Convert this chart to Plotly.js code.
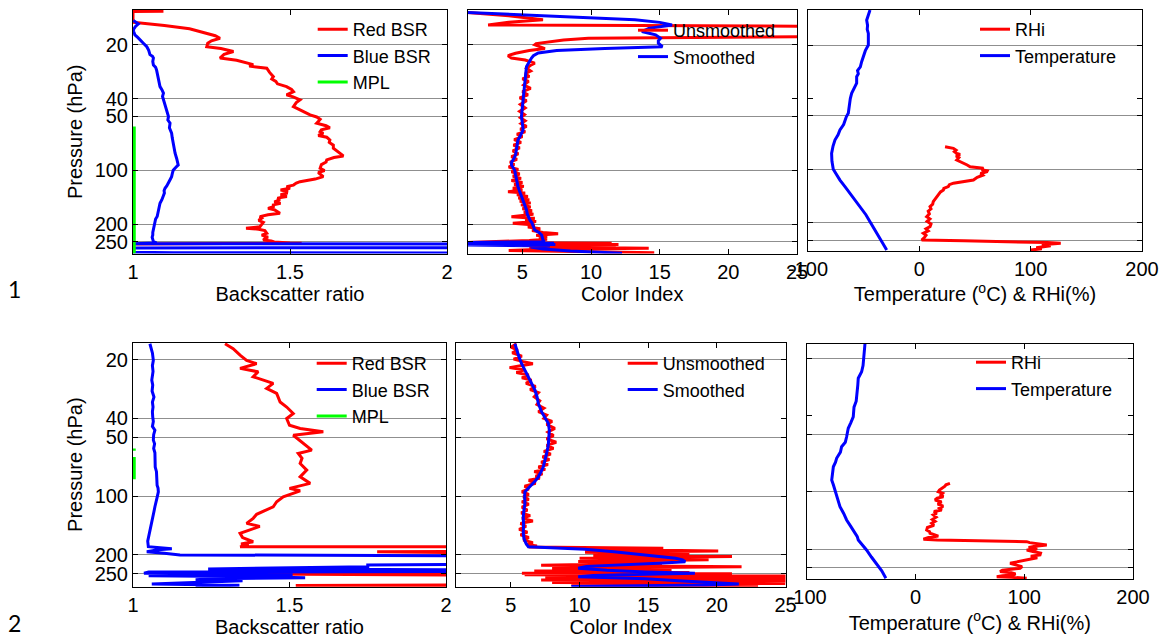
<!DOCTYPE html>
<html><head><meta charset="utf-8">
<script src="https://cdn.plot.ly/plotly-3.0.1.min.js"></script>
<style>html,body{margin:0;padding:0;background:#fff}#chart{width:1162px;height:639px}</style>
</head><body><div id="chart"></div><script>
// ---------- Row 1, panel 1: backscatter ratio ----------
const r1RedP = [13.0,13.05,15.0,15.6,16.3,17.2,17.8,18.4,19.0,19.6,20.5,21.0,21.8,22.6,23.7,24.4,25.3,25.8,26.3,27.0,28.5,30.1,31.0,32.0,33.0,34.2,35.5,36.5,38.0,39.0,40.5,42.0,44.2,46.0,47.5,49.2,50.5,52.0,53.5,54.7,56.5,58.0,59.5,61.0,62.2,64.0,65.5,67.8,70.0,72.5,75.4,78.0,80.0,83.2,85.0,87.6,90.0,93.0,97.5,100.5,103.0,106.0,108.6,112.0,115.8,118.0,121.0,123.4,126.0,129.0,131.0,134.4,137.0,140.0,143.0,146.4,150.0,153.0,156.0,159.6,163.0,166.0,170.0,173.8,177.0,181.4,185.0,190.0,195.0,200.0,206.4,210.6,213.0,217.0,224.6,230.0,236.0,240.0,244.7,248.0,251.0,254.0,255.4,256.0,256.5,257.5];
const r1RedV = [1.097,1.0,1.0,1.10,1.18,1.235,1.262,1.277,1.25,1.238,1.235,1.28,1.32,1.29,1.277,1.33,1.362,1.383,1.37,1.426,1.435,1.447,1.442,1.455,1.46,1.489,1.505,1.511,1.489,1.51,1.532,1.52,1.511,1.53,1.55,1.564,1.585,1.596,1.59,1.585,1.615,1.627,1.60,1.596,1.606,1.59,1.617,1.627,1.625,1.638,1.638,1.65,1.66,1.67,1.64,1.617,1.615,1.60,1.596,1.61,1.59,1.60,1.606,1.58,1.532,1.52,1.511,1.489,1.50,1.47,1.49,1.489,1.47,1.49,1.46,1.468,1.45,1.47,1.447,1.447,1.43,1.45,1.46,1.468,1.43,1.404,1.41,1.40,1.415,1.41,1.404,1.36,1.40,1.42,1.426,1.41,1.43,1.42,1.415,1.44,1.45,1.50,1.537,1.30,1.09,1.0];
const r1BlueP = [14.65,15.0,15.3,15.8,16.5,17.0,17.6,18.2,18.8,19.6,20.5,21.5,22.7,23.2,23.7,24.8,25.9,26.7,27.6,29.5,31.4,32.8,34.2,35.6,37.2,38.8,40.5,42.3,44.2,47.0,50.2,52.5,54.7,58.0,62.2,66.0,70.7,75.0,80.4,86.0,90.0,93.4,96.5,100.0,103.0,108.6,113.0,118.2,122.0,126.0,130.0,134.0,140.3,146.0,152.8,160.0,166.0,173.8,181.0,187.0,193.5,200.0,207.0,215.2,222.0,229.5,236.0,243.0,250.2,254.0,256.5,257.5,262.0,270.0,271.0,286.0,288.0,289.0];
const r1BlueV = [1.001,1.012,1.017,1.008,1.001,1.003,1.006,1.015,1.022,1.033,1.044,1.05,1.054,1.062,1.065,1.063,1.065,1.072,1.075,1.078,1.081,1.084,1.086,1.092,1.097,1.094,1.097,1.10,1.102,1.108,1.113,1.111,1.118,1.116,1.123,1.125,1.128,1.131,1.134,1.139,1.142,1.144,1.136,1.128,1.126,1.123,1.118,1.113,1.108,1.102,1.099,1.100,1.097,1.092,1.086,1.084,1.081,1.081,1.077,1.072,1.070,1.068,1.066,1.065,1.063,1.063,1.061,1.063,1.065,1.075,1.0,2.4,2.4,2.4,1.0,1.0,1.128,2.4];
const r1MplP = [57.1, 291];
const r1MplV = [1.004, 1.004];

// ---------- Row 1, panel 2: colour index ----------
const r1UnsP = [13.2,13.8,14.5,15.0,15.5,15.6,15.8,18.0,18.2,18.4,18.8,19.2,19.7,20.0,20.6,21.0,21.5,22.3,23.0,23.7,24.3,25.3,26.0,27.0,28.0,29.0,30.0,31.0,32.0,33.5,35.0,36.5,38.0,39.5,41.0,43.0,45.0,47.0,49.0,51.0,53.0,55.0,57.0,59.0,61.0,63.0,65.0,67.5,70.0,72.5,75.0,78.0,81.0,84.0,87.0,90.0,93.0,96.0,99.0,102.0,105.0,108.0,111.0,114.0,117.0,120.0,123.0,126.0,129.0,131.6,134.0,137.0,140.0,143.0,146.0,149.0,152.0,156.0,160.0,164.0,168.0,172.0,176.0,181.4,185.0,189.0,193.0,197.7,202.0,207.0,212.0,217.0,222.0,226.0,230.0,234.0,238.0,242.0,246.0,250.0,253.0,255.0,257.0,259.0,262.0,265.0,268.0,272.0,276.0,280.0,284.0,288.0,290.0];
const r1UnsV = [1.0,4.0,6.5,4.0,2.5,10.0,28,28,14,9.8,8.0,6.88,6.0,5.9,6.3,6.64,5.5,4.5,3.95,4.2,5.2,5.9,5.6,5.3,5.6,5.2,5.5,5.0,5.45,5.1,5.6,5.0,5.4,4.8,5.3,4.85,5.2,4.8,5.15,4.85,5.2,4.9,5.3,4.85,5.2,4.6,5.0,4.4,4.9,4.35,4.8,4.3,4.7,4.2,4.6,4.1,4.4,4.0,4.7,4.2,4.8,4.3,4.9,4.2,5.0,4.4,5.1,4.3,5.0,3.95,5.2,4.6,5.4,4.7,5.5,4.8,5.6,4.9,5.6,5.0,5.7,5.1,5.8,4.2,5.9,5.2,6.0,4.3,5.9,5.4,6.3,5.7,6.5,7.6,6.0,6.8,6.2,6.8,5.5,3.0,1.0,11.5,4.0,12.0,5.0,11.8,5.5,14.2,6.5,4.0,10.0,14.6,9.0];
const r1SmoP = [13.2,13.5,13.9,14.2,14.5,15.0,15.5,16.2,16.9,17.3,17.6,18.4,19.0,19.6,20.5,21.0,21.5,22.2,23.0,23.7,25.0,26.4,28.5,31.4,34.0,37.0,40.5,45.0,50.2,55.0,59.6,63.0,67.8,72.0,77.1,82.0,87.0,90.0,93.4,97.0,100.0,106.0,112.0,118.0,123.4,130.0,137.0,146.4,155.0,166.4,175.0,183.0,189.2,197.0,205.0,215.2,222.0,229.5,237.0,244.7,250.0,253.0,255.0,257.0,259.0,261.0,264.0,268.0,275.0,282.0,290.0];
const r1SmoV = [1.0,4.0,7.37,10.5,13.2,15.0,15.9,14.2,13.7,14.3,14.7,15.06,14.9,14.9,15.2,11.0,7.5,6.15,5.8,5.66,5.45,5.3,5.25,5.22,5.15,5.10,5.05,4.98,4.93,5.0,5.05,4.9,4.68,4.62,4.56,4.5,4.35,4.22,4.2,4.35,4.44,4.5,4.55,4.62,4.68,4.78,4.9,5.05,5.15,5.3,5.35,5.45,5.54,5.7,5.8,5.9,6.2,6.4,6.45,6.5,6.6,1.0,7.3,1.0,7.4,1.0,7.0,5.6,6.5,8.5,12.25];

// ---------- Row 1, panel 3: temperature & RHi ----------
const r1RhiP = [74.6,75.5,76.2,78.0,79.5,81.3,82.5,84.0,86.0,88.7,90.5,92.5,94.5,96.7,97.5,98.7,100.5,102.0,103.1,105.5,108.0,111.0,114.9,117.0,119.6,122.0,125.0,128.0,130.8,134.0,138.0,142.6,147.0,152.0,157.0,162.2,167.0,172.0,178.0,184.6,190.0,196.0,203.0,210.2,216.0,222.0,229.0,235.0,242.0,249.9,252.5,255.4,258.0,260.6,263.0,266.0,269.0,272.4,276.0,280.0,284.4];
const r1RhiV = [23.1,27.0,30.6,33.0,31.5,33.6,36.6,33.0,35.5,33.6,37.0,39.6,43.0,45.6,52.0,57.6,56.0,61.0,60.6,55.0,57.0,52.0,48.6,40.0,30.6,27.0,26.0,22.0,21.6,19.0,17.5,15.6,14.0,12.5,12.0,9.6,10.5,8.0,9.0,6.6,9.5,7.0,10.5,9.6,6.0,8.0,3.6,6.0,4.5,2.1,40.0,94.1,115.0,127.0,118.0,110.0,118.0,112.0,105.0,110.0,100.0];
const r1TempP = [12.7,13.5,14.5,15.5,16.3,17.2,18.5,20.0,21.5,22.8,24.8,26.5,27.8,29.0,30.1,32.8,35.0,37.4,40.0,43.5,46.0,48.4,50.5,52.8,56.0,60.1,64.0,68.4,74.0,81.3,90.0,100.0,107.0,114.9,125.0,136.4,150.0,165.6,180.0,197.1,215.0,239.3,260.0,284.4];
const r1TempV = [-44.3,-45.5,-47.3,-46.5,-46.8,-45.8,-45.5,-45.8,-48.5,-50.0,-51.8,-53.0,-55.5,-54.8,-56.3,-56.3,-58.5,-60.8,-62.0,-62.5,-63.0,-63.8,-65.5,-66.8,-68.0,-71.3,-73.0,-75.8,-77.5,-78.8,-78.5,-77.3,-74.5,-71.3,-66.8,-62.3,-57.0,-51.8,-48.0,-44.3,-41.0,-36.8,-33.0,-29.3];

// ---------- Row 2, panel 1: backscatter ratio ----------
const r2RedP = [16.6,17.6,19.0,20.2,21.0,22.2,23.1,24.5,26.5,28.1,29.8,33.0,35.0,37.8,40.1,43.4,45.1,46.9,48.8,53.8,58.2,60.5,64.0,68.1,73.6,79.7,86.1,91.3,94.0,100.8,106.9,113.4,120.3,124.0,130.0,138.0,143.0,155.0,163.0,171.3,176.0,178.0,181.6,182.0,190.0,193.0,197.0,247.0,250.0,256.0,284.0,287.0,290.0];
const r2RedV = [1.294,1.32,1.342,1.363,1.395,1.342,1.40,1.384,1.448,1.427,1.459,1.47,1.491,1.512,1.491,1.50,1.534,1.608,1.512,1.544,1.571,1.528,1.54,1.534,1.555,1.534,1.566,1.50,1.534,1.48,1.459,1.448,1.416,1.395,1.384,1.363,1.405,1.342,1.35,1.384,1.345,1.37,1.342,2.4,2.4,1.78,2.4,2.4,1.326,2.4,2.4,1.52,2.4];
const r2BlueP = [16.6,17.5,18.5,20.2,21.5,23.0,25.5,27.0,29.0,31.1,33.0,35.0,37.0,39.3,41.5,44.0,46.0,48.5,51.7,54.0,57.0,60.0,63.0,67.0,71.0,75.0,79.7,84.0,88.0,91.0,95.1,100.0,105.0,113.4,120.0,128.0,138.0,148.0,161.5,170.0,181.6,184.0,186.0,188.5,192.6,196.0,200.0,203.0,222.0,225.0,230.0,236.0,239.0,243.0,245.0,248.0,250.0,252.0,254.0,256.0,259.0,262.0,265.0,268.0,271.0,276.0,282.0,286.0,290.0];
const r2BlueV = [1.054,1.058,1.062,1.065,1.062,1.064,1.060,1.063,1.061,1.067,1.062,1.064,1.062,1.063,1.065,1.062,1.07,1.066,1.065,1.069,1.066,1.07,1.07,1.072,1.071,1.075,1.076,1.078,1.077,1.080,1.081,1.078,1.074,1.07,1.067,1.063,1.06,1.055,1.049,1.047,1.049,1.09,1.124,1.08,1.044,1.10,1.15,2.4,2.4,1.75,1.75,1.24,2.4,2.4,1.05,1.035,1.3,1.51,1.2,1.05,1.4,1.55,1.25,1.2,1.35,1.2,1.06,1.34,1.2];
const r2MplP = [57.0,58.6,null,63.0,82.0];
const r2MplV = [1.004,1.004,null,1.004,1.004];

// ---------- Row 2, panel 2: colour index ----------
const r2UnsP = [16.6,17.3,17.9,18.5,19.2,19.9,20.5,21.0,21.5,22.0,22.6,23.3,24.0,24.8,25.5,26.5,27.5,28.5,29.5,31.0,32.5,34.0,35.5,37.0,38.5,40.0,41.5,43.0,45.0,47.0,49.0,51.0,53.0,55.0,57.0,59.0,61.0,63.0,65.0,67.0,69.0,71.0,73.0,75.0,77.0,79.0,81.0,83.0,86.0,89.0,92.0,95.0,98.0,101.0,104.0,107.0,110.0,114.0,118.0,122.0,126.0,130.0,134.0,138.0,143.0,148.0,153.0,158.0,163.0,168.0,173.0,177.0,180.0,182.0,185.0,187.0,191.0,194.0,198.0,201.0,204.0,208.0,212.0,216.0,221.0,226.0,230.0,234.0,239.0,242.0,246.0,248.0,250.0,253.0,257.0,261.0,265.0,269.0,273.0,277.0,280.0,284.0,288.0,291.0];
const r2UnsV = [5.4,5.0,5.5,5.1,5.8,5.2,5.9,6.6,5.7,4.9,6.0,5.4,6.3,5.8,6.5,6.1,6.8,6.4,7.0,6.7,7.1,6.9,7.4,7.0,7.6,7.4,8.0,7.6,8.2,7.7,8.1,7.6,8.3,7.6,8.1,7.4,7.9,7.3,7.8,7.2,7.7,7.0,7.5,6.7,7.3,6.8,7.1,6.3,6.8,6.0,6.3,5.8,6.3,5.9,6.3,5.8,6.3,5.8,6.2,5.75,6.4,5.8,6.6,5.7,6.1,5.6,6.2,5.7,6.3,5.9,6.6,6.1,6.9,6.3,16.1,10.4,20.1,10.4,18.0,11.0,21.1,10.0,19.4,9.9,16.0,7.2,21.8,8.0,16.7,6.7,18.0,5.8,21.1,6.0,28,7.5,28,7.2,26,8.0,25,9.4,23,10];
const r2SmoP = [16.6,17.9,19.5,21.0,22.8,24.5,26.5,28.7,31.0,33.6,37.1,40.0,42.5,46.0,49.8,55.0,60.5,65.0,70.8,75.0,79.7,84.0,87.9,91.0,95.1,100.0,109.0,118.0,127.6,140.0,155.0,165.0,175.0,181.6,184.0,187.3,193.0,200.3,204.0,208.2,212.0,216.6,220.9,225.0,229.0,234.2,240.0,245.0,248.5,252.0,255.0,258.6,265.0,272.0,279.6,282.0,285.0,290.0];
const r2SmoV = [5.29,5.41,5.6,5.78,6.05,6.27,6.5,6.75,6.9,7.0,7.24,7.5,7.73,7.8,7.78,7.72,7.6,7.5,7.36,7.2,7.0,6.75,6.5,6.25,6.02,6.0,6.02,5.95,5.9,5.92,5.9,5.95,6.1,6.27,8.0,10.4,12.5,14.8,16.0,17.0,17.5,17.7,15.75,12.5,10.5,9.9,12.0,14.8,18.4,14.0,11.0,9.9,14.8,17.5,20.1,21.6,19.2,9.4];

// ---------- Row 2, panel 3: temperature & RHi ----------
const r2RhiP = [90.4,92.0,93.5,95.9,98.0,100.0,101.9,104.0,106.2,108.0,110.5,113.0,116.0,119.0,122.0,124.7,127.0,130.0,132.4,136.0,140.0,143.0,146.4,150.0,154.0,158.8,162.0,165.2,168.0,171.0,174.0,177.6,179.0,181.0,182.8,185.0,188.0,190.2,193.0,196.0,199.0,202.1,206.0,210.0,214.7,218.0,222.0,228.0,232.0,237.3,242.0,247.0,252.0,255.0,258.0,262.5,266.0,270.0,273.4,276.0,278.9,281.0,284.4];
const r2RhiV = [31.7,28.0,27.1,24.0,22.0,21.0,25.0,23.5,25.6,20.0,18.0,24.0,20.5,25.5,22.0,24.1,17.0,19.5,16.4,19.0,15.5,18.0,14.9,17.0,11.0,10.3,13.0,13.4,18.0,21.0,12.0,7.3,20.0,70.0,102.3,105.0,116.0,120.7,110.0,104.0,112.0,102.3,108.0,115.0,114.5,106.0,112.0,102.3,95.0,87.0,92.0,98.0,96.2,85.0,80.0,77.8,88.0,92.0,90.0,80.0,74.7,88.0,102.3];
const r2TempP = [16.7,18.0,20.0,21.8,23.5,25.4,27.5,30.5,33.5,36.0,40.5,43.5,46.5,51.5,55.0,58.1,62.0,66.8,70.0,74.0,80.0,86.8,92.0,98.0,108.0,119.8,130.0,140.7,152.0,165.2,172.0,179.1,190.0,202.1,220.0,237.3,260.0,284.4];
const r2TempV = [-46.4,-47.0,-48.0,-48.2,-49.5,-52.6,-53.0,-54.1,-54.5,-56.5,-57.2,-59.5,-61.8,-63.3,-64.5,-67.9,-69.0,-72.5,-73.5,-75.5,-76.5,-77.0,-75.5,-74.0,-71.5,-69.4,-66.0,-63.3,-59.5,-55.6,-53.5,-52.6,-48.5,-45.0,-40.5,-35.8,-31.0,-27.2];

// ---------- tick labels / texts ----------
const pTicks = [20, 40, 50, 100, 200, 250];
const pGrid = [20, 50, 100, 200, 250];
const bsrTicks = [1, 1.5, 2];
const ciTicks = [5, 10, 15, 20, 25];
const tTicks = [-100, 0, 100, 200];
const tTickText = ['-100', '0', '100', '200'];

// ---------- layout helpers ----------
const W = 1162, H = 639;
const FONT = 'Liberation Sans, Arial, sans-serif';
const fx = px => px / W;
const fy = py => 1 - py / H;
const RED = '#ff0000', BLUE = '#0000ff', GREEN = '#00ff00';
const LW = 3;

function tr(x, y, ax, name, color, leg) {
  return {x: x, y: y, xaxis: 'x' + ax, yaxis: 'y' + ax, type: 'scatter', mode: 'lines',
          name: name, line: {color: color, width: LW}, legend: leg, connectgaps: false};
}
const data = [
  tr(r1RedV, r1RedP, '', 'Red BSR', RED, 'legend'),
  tr(r1BlueV, r1BlueP, '', 'Blue BSR', BLUE, 'legend'),
  tr(r1MplV, r1MplP, '', 'MPL', GREEN, 'legend'),
  tr(r1UnsV, r1UnsP, '2', 'Unsmoothed', RED, 'legend2'),
  tr(r1SmoV, r1SmoP, '2', 'Smoothed', BLUE, 'legend2'),
  tr(r1RhiV, r1RhiP, '3', 'RHi', RED, 'legend3'),
  tr(r1TempV, r1TempP, '3', 'Temperature', BLUE, 'legend3'),
  tr(r2RedV, r2RedP, '4', 'Red BSR', RED, 'legend4'),
  tr(r2BlueV, r2BlueP, '4', 'Blue BSR', BLUE, 'legend4'),
  tr(r2MplV, r2MplP, '4', 'MPL', GREEN, 'legend4'),
  tr(r2UnsV, r2UnsP, '5', 'Unsmoothed', RED, 'legend5'),
  tr(r2SmoV, r2SmoP, '5', 'Smoothed', BLUE, 'legend5'),
  tr(r2RhiV, r2RhiP, '6', 'RHi', RED, 'legend6'),
  tr(r2TempV, r2TempP, '6', 'Temperature', BLUE, 'legend6')
];

const base = {showline: true, linecolor: '#000', linewidth: 1, mirror: 'ticks', ticks: 'inside',
              ticklen: 5, tickcolor: '#000', zeroline: false, fixedrange: true,
              tickfont: {family: FONT, size: 20, color: '#000'}};
function xa(dom, anchor, range, tv, tt, title) {
  return Object.assign({}, base, {domain: [fx(dom[0]), fx(dom[1])], anchor: anchor, range: range,
    tickvals: tv, ticktext: tt, showgrid: false,
    title: {text: title, font: {family: FONT, size: 20, color: '#000'}, standoff: 0}});
}
function ya(dom, anchor, top, bottom, labels) {
  const o = Object.assign({}, base, {domain: [fy(dom[1]), fy(dom[0])], anchor: anchor, type: 'log',
    range: [Math.log10(bottom), Math.log10(top)], showgrid: true, gridcolor: '#8f8f8f', gridwidth: 1});
  if (labels) {
    o.tickvals = pTicks; o.ticktext = pTicks.map(String);
    o.title = {text: 'Pressure (hPa)', font: {family: FONT, size: 20, color: '#000'}, standoff: 6};
  } else {
    o.tickvals = pGrid; o.showticklabels = false;
    o.minor = {tickvals: [40], ticks: 'inside', ticklen: 5, tickcolor: '#000', showgrid: false};
  }
  return o;
}
function leg(lx, ty) {
  return {x: fx(lx), y: fy(ty), xanchor: 'left', yanchor: 'top', bgcolor: 'rgba(0,0,0,0)',
          borderwidth: 0, font: {family: FONT, size: 18, color: '#000'}};
}
const tempTitle = 'Temperature (<sup>o</sup>C) & RHi(%)';
const layout = {
  width: W, height: H, margin: {l: 0, r: 0, t: 0, b: 0}, paper_bgcolor: '#fff', plot_bgcolor: '#fff',
  font: {family: FONT, color: '#000'},
  xaxis:  xa([133, 447], 'y', [1, 2], bsrTicks, ['1', '1.5', '2'], 'Backscatter ratio'),
  yaxis:  ya([10, 253.5], 'x', 12.8, 291, true),
  xaxis2: xa([467.5, 797], 'y2', [1, 25], ciTicks, ciTicks.map(String), 'Color Index'),
  yaxis2: ya([10, 253.5], 'x2', 12.8, 291, false),
  xaxis3: xa([808, 1142], 'y3', [-100, 200], tTicks, tTickText, tempTitle),
  yaxis3: ya([10, 251], 'x3', 12.7, 288, false),
  xaxis4: xa([133, 446], 'y4', [1, 2], bsrTicks, ['1', '1.5', '2'], 'Backscatter ratio'),
  yaxis4: ya([342.7, 586.7], 'x4', 16.4, 291, true),
  xaxis5: xa([456, 785.5], 'y5', [1, 25], ciTicks, ciTicks.map(String), 'Color Index'),
  yaxis5: ya([342.7, 586.7], 'x5', 16.4, 291, false),
  xaxis6: xa([806.7, 1133], 'y6', [-100, 200], tTicks, tTickText, tempTitle),
  yaxis6: ya([344, 579.3], 'x6', 16.8, 288, false),
  legend:  leg(312.7, 11),
  legend2: leg(633, 12),
  legend3: leg(975, 11),
  legend4: leg(311.7, 345),
  legend5: leg(622.7, 345),
  legend6: leg(971, 344),
  annotations: [
    {text: '1', xref: 'paper', yref: 'paper', x: fx(14), y: fy(289), xanchor: 'center', yanchor: 'middle',
     showarrow: false, font: {family: 'Lato, Noto Sans, sans-serif', size: 23, color: '#000'}},
    {text: '2', xref: 'paper', yref: 'paper', x: fx(14), y: fy(623), xanchor: 'center', yanchor: 'middle',
     showarrow: false, font: {family: 'Lato, Noto Sans, sans-serif', size: 23, color: '#000'}}
  ],
  showlegend: true
};
Plotly.newPlot('chart', data, layout, {staticPlot: true, displayModeBar: false});
</script></body></html>
